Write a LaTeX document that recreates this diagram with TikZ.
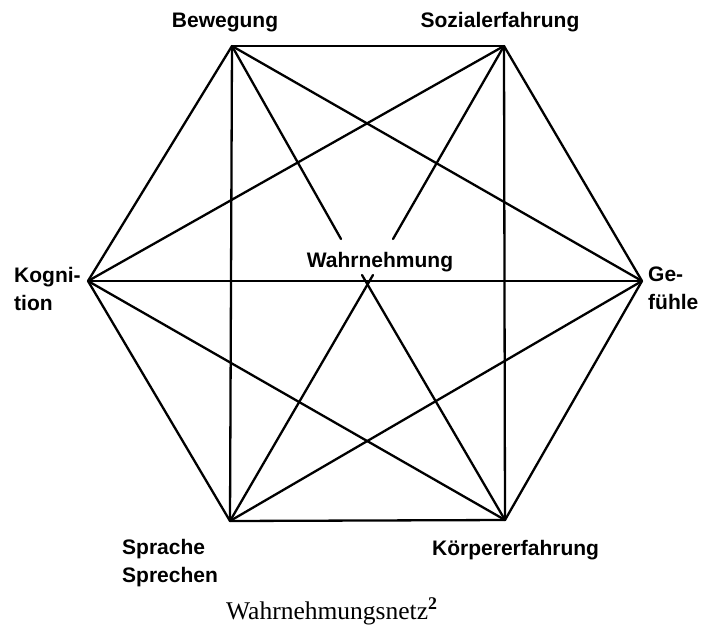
\documentclass[tikz,border=0pt]{standalone}
\usepackage{fontspec}
\newfontfamily\netfont{Liberation Sans}
\newfontfamily\capfont{Liberation Serif}
\usetikzlibrary{positioning}
\tikzset{
  % Netz styles
  edge/.style={line width=2.3pt, line cap=round, line join=round},
  area/.style={font=\netfont\bfseries\fontsize{21}{28}\selectfont, inner sep=0pt, align=left},
  netzcaption/.style={font=\capfont\fontsize{25.5}{28}\selectfont, inner sep=0pt},
}

\begin{document}
\begin{tikzpicture}[x=1pt, y=-1pt]
    \useasboundingbox (0,0) rectangle (705,625);

    % Ecken des Sechsecks
    \coordinate (bew) at (232,46);
    \coordinate (soz) at (504,46);
    \coordinate (gef) at (642,281);
    \coordinate (koe) at (505,520);
    \coordinate (spr) at (230,521);
    \coordinate (kog) at (88,281);

    % Enden der Linien zur Mitte
    \coordinate (wB) at (341,239);
    \coordinate (wS) at (393,239);
    \coordinate (wL) at (362,275);
    \coordinate (wR) at (373,275);

    % Verbindungen
    \foreach \a/\b in {bew/soz, soz/gef, gef/koe, koe/spr, spr/kog, kog/bew,
                       bew/spr, soz/koe, kog/gef, bew/gef, soz/kog, kog/koe, gef/spr}
      \draw[edge] (\a) -- (\b);

    \draw[edge] (bew) -- (wB);
    \draw[edge] (soz) -- (wS);
    \draw[edge] (koe) -- (wL);
    \draw[edge] (spr) -- (wR);

    % Beschriftungen
    \node[area] (lbew) at (225,22) {Bewegung};
    \node[area] (lsoz) at (500,22) {Sozialerfahrung};
    \node[area, anchor=west] (lkog) at (14,289) {Kogni-\\tion};
    \node[area, anchor=west] (lgef) at (648,288) {Ge-\\fühle};
    \node[area, anchor=west] (lspr) at (122,563) {Sprache\\Sprechen};
    \node[area, anchor=west] (lkoe) at (432,550) {Körpererfahrung};
    \node[area] (wahr) at (380,262) {Wahrnehmung};

    % Unterschrift
    \node[netzcaption, anchor=base west] (netz) at (226,619) {Wahrnehmungsnetz\textsuperscript{\bfseries 2}};
\end{tikzpicture}
\end{document}
